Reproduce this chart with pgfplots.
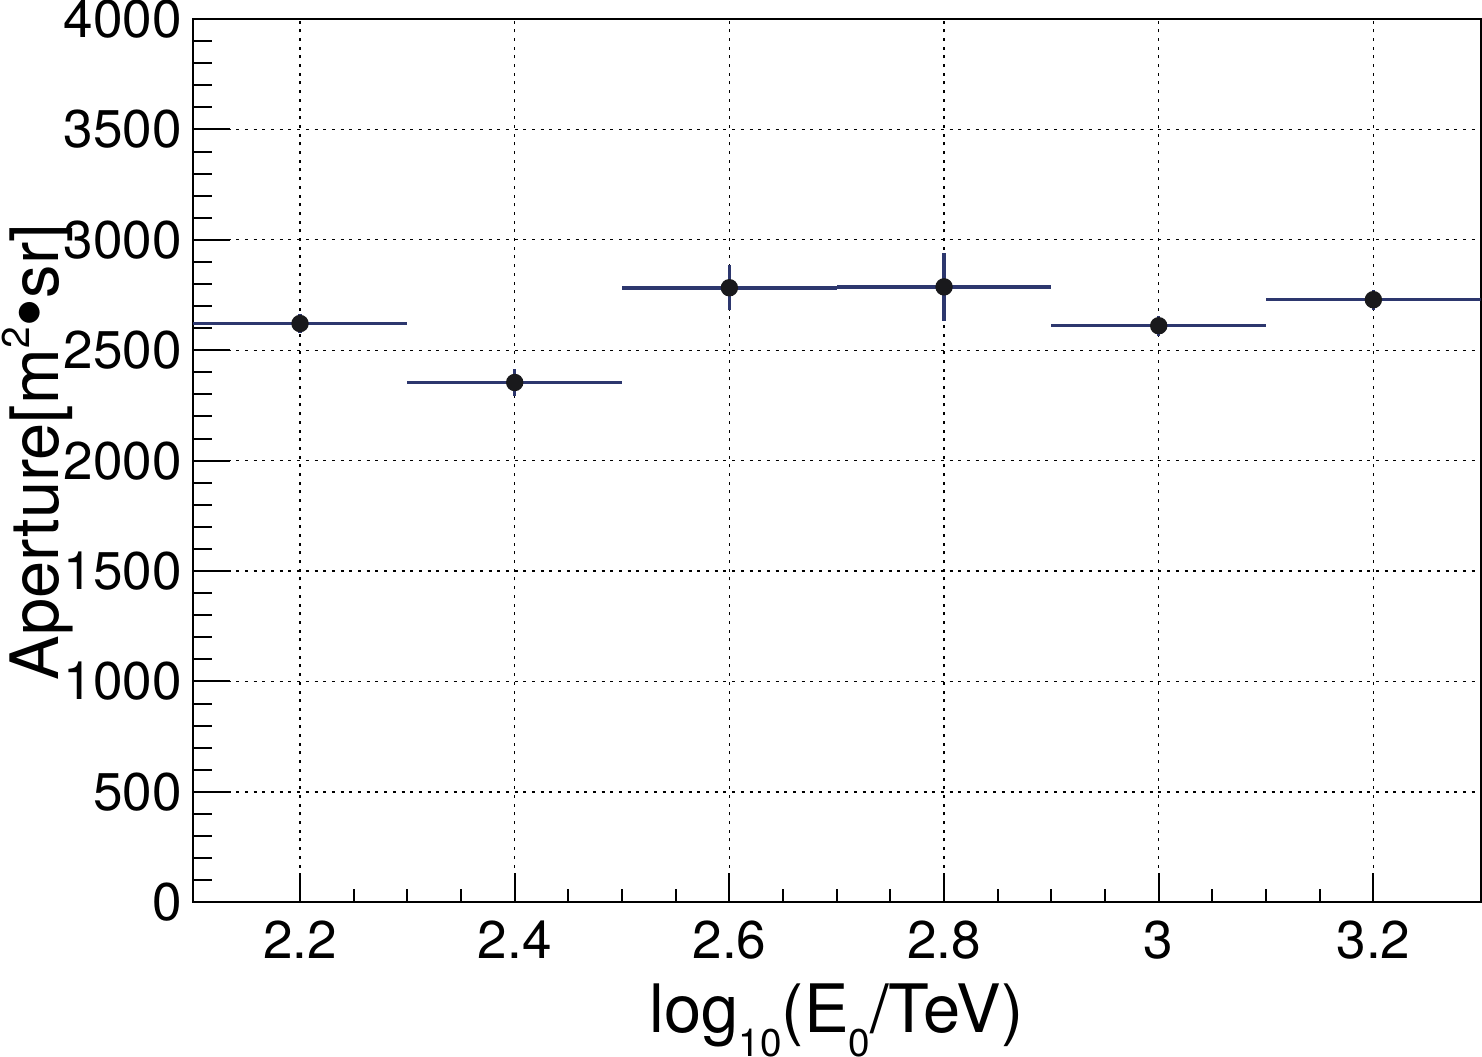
\documentclass[border=0pt]{standalone}
\usepackage{fontspec}
\setmainfont{TeX Gyre Heros}
\usepackage{pgfplots}
\pgfplotsset{compat=1.18}
\usepackage{pgfplotstable}
\definecolor{rootnavy}{RGB}{45,55,110}
\definecolor{mk}{RGB}{25,25,28}
\pgfplotstableread{
x    y     ex   ey
2.2  2621  0.1  43
2.4  2354  0.1  63
2.6  2783  0.1  103
2.8  2787  0.1  155
3.0  2611  0.1  45
3.2  2729  0.1  45
}\aperture
\newcommand{\lblfont}{\fontsize{19}{22}\selectfont}
\newcommand{\subfont}{\fontsize{11}{13}\selectfont}
\begin{document}
\begin{tikzpicture}
\begin{axis}[
  at={(19.27mm,15.37mm)}, anchor=south west,
  scale only axis, width=128.8mm, height=88.33mm,
  xmin=2.1, xmax=3.3, ymin=0, ymax=4000,
  xtick={2.2,2.4,...,3.21}, ytick={0,500,...,4000},
  minor x tick num=3, minor y tick num=4,
  tick align=inside, xtick pos=bottom, ytick pos=left,
  xtick style={/pgfplots/major tick length=2.9mm, /pgfplots/minor tick length=1.3mm, line width=0.2mm, black},
  ytick style={/pgfplots/major tick length=3.7mm, /pgfplots/minor tick length=1.9mm, line width=0.2mm, black},
  axis line style={line width=0.2mm, black},
  grid=major,
  major grid style={black, line width=0.13mm, dash pattern=on 0.3mm off 0.57mm},
  scaled ticks=false,
  /pgf/number format/1000 sep={},
  /pgf/number format/assume math mode=true,
  ticklabel style={font=\fontsize{15.1}{17}\selectfont, inner sep=0pt},
  xticklabel style={anchor=north, yshift=-1.8mm},
  yticklabel style={anchor=east, xshift=-1mm},
  xlabel={\lblfont log\raisebox{-0.36em}{\subfont 10}(E\raisebox{-0.36em}{\subfont 0}/TeV)},
  ylabel={\lblfont Aperture[m\raisebox{0.44em}{\subfont 2}\scalebox{1.25}{•}sr]},
  xlabel style={at={(axis description cs:0.5,0)}, anchor=base, yshift=-13mm, inner sep=0pt},
  ylabel style={at={(axis description cs:-0.1040,0.5096)}, rotate=0, anchor=base, inner sep=0pt},
]
\addplot[only marks, mark=*, mark size=0.8mm, mark options={fill=mk, draw=mk},
  error bars/.cd, x dir=both, x explicit, y dir=both, y explicit,
  error mark=none, error bar style={line width=0.35mm, rootnavy}]
  table[x=x, y=y, x error=ex, y error=ey] {\aperture};
\end{axis}
\pgfresetboundingbox
\useasboundingbox (0,0) rectangle (148.2mm,105.6mm);
\end{tikzpicture}
\end{document}
